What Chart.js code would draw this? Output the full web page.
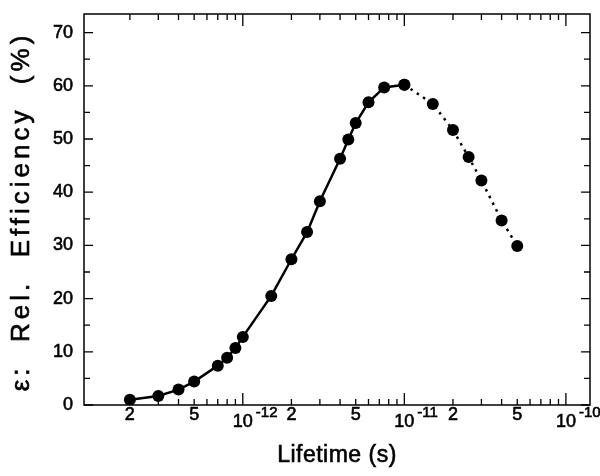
<!DOCTYPE html>
<html>
<head>
<meta charset="utf-8">
<script src="https://cdn.jsdelivr.net/npm/chart.js@4.4.0/dist/chart.umd.min.js"></script>
<style>
  html, body { margin: 0; padding: 0; background: #fff; }
</style>
</head>
<body>
<canvas id="chart" width="600" height="476"></canvas>
<script>
// measured points, solid part (rising) and dotted part (falling)
const solidLifetime = [2e-13, 3e-13, 4e-13, 5e-13, 7e-13, 8e-13, 9e-13, 1e-12, 1.5e-12, 2e-12,
  2.5e-12, 3e-12, 4e-12, 4.5e-12, 5e-12, 6e-12, 7.5e-12, 1e-11];
const solidEff = [1.0, 1.7, 2.9, 4.4, 7.4, 8.9, 10.7, 12.8, 20.5, 27.4,
  32.5, 38.3, 46.3, 49.9, 53.0, 56.9, 59.7, 60.2];
const dottedLifetime = [1e-11, 1.5e-11, 2e-11, 2.5e-11, 3e-11, 4e-11, 5e-11];
const dottedEff = [60.2, 56.6, 51.7, 46.6, 42.2, 34.7, 29.9];

// axis ticks
const xMajorTicks = [1e-12, 1e-11, 1e-10];
const xMinorTicks = [2e-13, 3e-13, 4e-13, 5e-13, 6e-13, 7e-13, 8e-13, 9e-13,
  2e-12, 3e-12, 4e-12, 5e-12, 6e-12, 7e-12, 8e-12, 9e-12,
  2e-11, 3e-11, 4e-11, 5e-11, 6e-11, 7e-11, 8e-11, 9e-11];
const xLabelValues = [2e-13, 5e-13, 1e-12, 2e-12, 5e-12, 1e-11, 2e-11, 5e-11, 1e-10];
const xLabelTexts = ["2", "5", "10^-12", "2", "5", "10^-11", "2", "5", "10^-10"];
const yTickValues = [0, 10, 20, 30, 40, 50, 60, 70];
const yMinorTicks = [5, 15, 25, 35, 45, 55, 65];

const FONT = "'Liberation Sans', Arial, sans-serif";

const toPoints = (xs, ys) => xs.map((x, i) => ({ x, y: ys[i] }));

// heavier text, the scanned original has thick strokes
function boldText(ctx, text, x, y) {
  ctx.fillText(text, x, y);
  ctx.strokeText(text, x, y);
}

const frame = {
  id: "frame",
  afterDraw(chart) {
    const { ctx, chartArea: a, scales: { x, y } } = chart;
    ctx.save();
    ctx.strokeStyle = "#000";
    ctx.fillStyle = "#000";
    ctx.lineWidth = 1.5;
    ctx.strokeRect(a.left, a.top, a.right - a.left, a.bottom - a.top);

    ctx.lineWidth = 1.3;
    ctx.beginPath();
    const xTick = (v, len) => {
      const px = x.getPixelForValue(v);
      ctx.moveTo(px, a.bottom); ctx.lineTo(px, a.bottom - len);
      ctx.moveTo(px, a.top); ctx.lineTo(px, a.top + len);
    };
    const yTick = (v, len) => {
      const py = y.getPixelForValue(v);
      ctx.moveTo(a.left, py); ctx.lineTo(a.left + len, py);
      ctx.moveTo(a.right, py); ctx.lineTo(a.right - len, py);
    };
    xMajorTicks.forEach((v) => xTick(v, 12));
    xMinorTicks.forEach((v) => xTick(v, 6));
    yTickValues.forEach((v) => yTick(v, 9));
    yMinorTicks.forEach((v) => yTick(v, 6));
    ctx.stroke();

    // x tick labels, powers of ten with a raised exponent
    ctx.lineWidth = 0.6;
    ctx.textBaseline = "middle";
    xLabelValues.forEach((v, i) => {
      const px = x.getPixelForValue(v);
      const text = xLabelTexts[i];
      if (text.includes("^")) {
        const [base, exp] = text.split("^");
        ctx.font = "18px " + FONT;
        ctx.textAlign = "center";
        boldText(ctx, base, px, 422);
        const w = ctx.measureText(base).width;
        ctx.font = "15px " + FONT;
        ctx.textAlign = "left";
        boldText(ctx, exp, px + w / 2 + 3, 413);
      } else {
        ctx.font = "18px " + FONT;
        ctx.textAlign = "center";
        boldText(ctx, text, px, 415);
      }
    });

    // y tick labels
    ctx.font = "18px " + FONT;
    ctx.textAlign = "right";
    yTickValues.forEach((v) => boldText(ctx, String(v), a.left - 11, y.getPixelForValue(v)));

    // axis titles
    ctx.font = "23px " + FONT;
    ctx.textAlign = "center";
    ctx.letterSpacing = "0.5px";
    boldText(ctx, "Lifetime (s)", (a.left + a.right) / 2, 456);

    ctx.translate(22, (a.top + a.bottom) / 2 + 2);
    ctx.rotate(-Math.PI / 2);
    ctx.font = "26px " + FONT;
    ctx.letterSpacing = "4px";
    boldText(ctx, "ε:  Rel.  Efficiency  (%)", 0, 0);
    ctx.restore();
  },
};

new Chart(document.getElementById("chart"), {
  type: "line",
  data: {
    datasets: [
      {
        data: toPoints(solidLifetime, solidEff),
        borderColor: "#000",
        borderWidth: 2.5,
        pointRadius: 6,
        pointBackgroundColor: "#000",
        pointBorderWidth: 0,
        tension: 0,
      },
      {
        data: toPoints(dottedLifetime, dottedEff),
        borderColor: "#000",
        borderWidth: 2.5,
        borderDash: [2.5, 5],
        pointRadius: 6,
        pointBackgroundColor: "#000",
        pointBorderWidth: 0,
        tension: 0,
      },
    ],
  },
  options: {
    responsive: false,
    devicePixelRatio: 1,
    animation: false,
    layout: { padding: { top: 14, right: 10, left: 0, bottom: 0 } },
    plugins: { legend: { display: false }, tooltip: { enabled: false } },
    scales: {
      x: {
        type: "logarithmic",
        min: 1.04e-13,
        max: 1.41e-10,
        ticks: { display: false },
        grid: { display: false },
        border: { display: false },
        afterFit: (s) => { s.height = 71; },
      },
      y: {
        min: 0,
        max: 73.5,
        afterBuildTicks: (s) => { s.ticks = yTickValues.map((value) => ({ value })); },
        ticks: { display: false },
        grid: { display: false, drawTicks: false },
        border: { display: false },
        afterFit: (s) => { s.width = 84; },
      },
    },
  },
  plugins: [frame],
});
</script>
</body>
</html>
